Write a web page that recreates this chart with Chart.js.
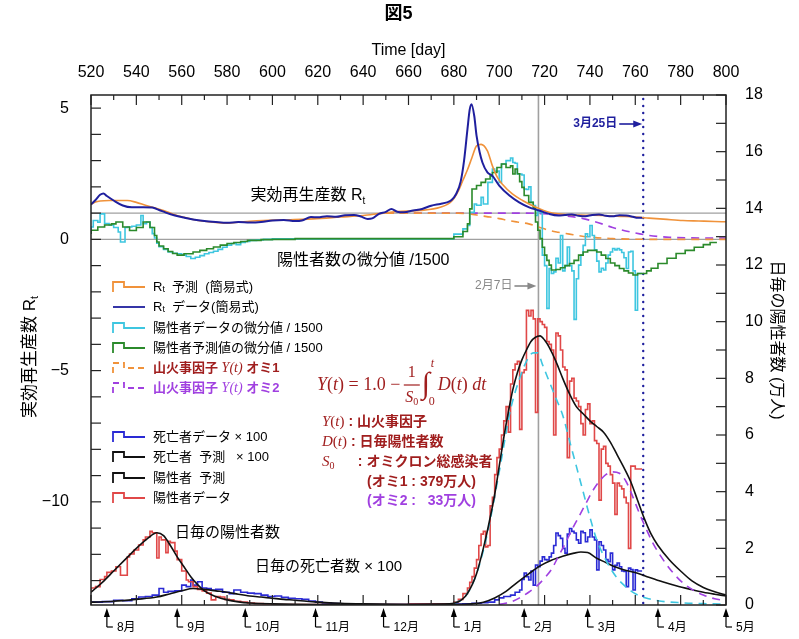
<!DOCTYPE html>
<html>
<head>
<meta charset="UTF-8">
<title>図5</title>
<script src="https://cdn.jsdelivr.net/npm/chart.js"></script>
<style>
  html, body { margin: 0; padding: 0; background: #fff; }
  canvas { display: block; }
</style>
</head>
<body>
<canvas id="fig5" width="799" height="639"></canvas>
<script>
// ---- axes ----
const dayMin = 520, dayMax = 800;
const leftMin = -13.93, leftMax = 5.5;
const rightMin = 0, rightMax = 18;
const refLevels = [0, 1];
const feb7Day = 717.3, mar25Day = 763.5;
const monthDays = [527, 558, 588, 619, 649, 680, 711, 739, 770, 800];
const monthLabels = ['8月', '9月', '10月', '11月', '12月', '1月', '2月', '3月', '4月', '5月'];

// ---- upper panel (left axis) ----
const rtPredDays = [520,522,524,528,532,536,540,544,548,552,556,560,565,570,575,580,585,590,596,606,618,630,640,647,655,665,674,679,682,684,686,688,690,692,694.8,697,699.2,701.4,705.8,710.3,716.2,722,730.8,738,745.5,752,760.2,766,774,781,788,795,800];
const rtPredVals = [1.33,1.42,1.46,1.48,1.48,1.48,1.41,1.3,1.2,1.1,0.97,0.86,0.76,0.69,0.64,0.62,0.65,0.69,0.72,0.74,0.78,0.85,0.91,0.98,1.06,1.1,1.22,1.45,1.85,2.25,2.65,3.12,3.56,3.62,3.37,2.8,2.36,2.1,1.73,1.48,1.22,1.03,0.94,0.92,0.91,0.88,0.85,0.81,0.76,0.72,0.7,0.68,0.67];

const rtDataDays = [520,522,524,525.5,527,530,534,538,543,547,550,553,557,561,565,570,575,580,585,590,595,600,605,610,613,617,620,624,628,632,636,639,642,644,647,650,652.5,655,658,662,666,670,674,677,679,681,683,
  684.5,686,687,687.8,689,690,691.3,692.6,694.8,697,700,704.5,708.8,713.2,717.6,722,726,729,732,735,738,741,744,747,750,753,756,759,761,763];
const rtDataVals = [1.33,1.5,1.7,1.75,1.65,1.48,1.29,1.22,1.22,1.21,1.12,1.02,0.91,0.83,0.76,0.7,0.66,0.63,0.66,0.64,0.66,0.72,0.74,0.7,0.72,0.85,0.84,0.88,0.86,0.92,0.93,0.87,0.78,0.8,0.97,1.05,1.16,1.05,1.03,1.1,1.16,1.28,1.35,1.41,1.5,1.73,2.2,
  3.0,4.2,4.95,5.15,4.7,3.95,3.35,2.93,2.55,2.42,2.05,1.67,1.41,1.22,1.1,0.97,0.91,0.93,0.95,0.9,0.88,0.93,0.95,0.9,0.88,0.92,0.91,0.86,0.82,0.82];

const dPosDataDays = [520,521,523,524,526,528,530,532,533,535,536,538,540,542,543,544.5,546,547,548,549,550,552,554,556,558,560,562,564,566,568,570,572,574,576,578,580,582,584,586,588,590,593,596,600,680,684,686,687,689,690,692,693,695,697,698,700,701,703,705,706,707,708,710,711,712,713,714,715,716,717,718,719,720,
  721,722,723,724,725,726,727,728,729,730,731,732,733,734,735,736,737,738,739,740,741,742,743,744,745,746,747,748,749,750,751,752,753,754,755,756,757,758,759,760,761,762,763];
const dPosDataVals = [0.2,0.47,0.72,0.65,0.97,0.6,0.55,0.45,0.28,-0.1,0.45,0.47,0.5,0.55,0.91,0.6,0.66,0.45,0.22,0.05,-0.15,-0.28,-0.38,-0.48,-0.53,-0.55,-0.6,-0.65,-0.73,-0.68,-0.62,-0.55,-0.5,-0.45,-0.38,-0.3,-0.22,-0.16,-0.2,-0.12,-0.08,-0.04,-0.02,0,0.02,0.2,0.4,0.53,1.03,1.35,1.3,1.6,1.35,2.17,2.68,2.6,2.17,2.87,3.0,3.1,2.93,2.9,2.49,2.45,1.92,1.9,2.0,1.41,1.29,0.91,1.1,1.03,-0.6,
  -1.0,-2.63,-1.11,-1.3,-1.24,-0.72,-0.9,0.15,-1.2,-1.0,-0.29,-1.0,-1.2,-3.05,-1.5,-0.98,-0.6,-0.23,0.21,0.1,0.53,0.15,-0.4,-0.83,-1.24,-1.1,-1.17,-0.9,-0.6,-0.48,-0.35,-0.4,-0.35,-0.4,-0.5,-0.7,-1.11,-0.48,-0.45,-1.2,-2.7,-1.3,-1.3];

const dPosPredDays = [520,523,526,529,531,534,537,540,543,546,548,549,550,552,554,556,558,561,565,568,571,574,577,580,583,586,589,595,600,610,680,684,686,687,688,690,692,694,696,697,699,701,703,705,706,707,708,709,710,711,713,715,716,717,718,719,720,721,722,723,725,727,729,731,733,735,737,739,741,743,745,747,749,751,753,755,757,759,761,763,765,767,770,774,778,782,786,790,793,796];
const dPosPredVals = [0.2,0.35,0.47,0.55,0.59,0.66,0.47,0.34,0.45,0.66,0.45,0.15,-0.1,-0.25,-0.36,-0.46,-0.54,-0.6,-0.55,-0.48,-0.42,-0.36,-0.29,-0.22,-0.16,-0.12,-0.08,-0.04,-0.01,0,0.03,0.1,0.3,0.59,1.16,1.92,2.05,2.17,2.3,2.42,2.55,2.74,2.87,2.74,2.8,2.49,2.68,2.5,2.2,1.98,1.67,1.41,1.2,0.66,0.35,0.03,-0.3,-0.6,-0.8,-0.98,-1.17,-1.15,-1.08,-1.0,-0.92,-0.8,-0.6,-0.48,-0.42,-0.42,-0.48,-0.6,-0.73,-0.9,-1.0,-1.11,-1.2,-1.28,-1.36,-1.3,-1.3,-1.2,-1.1,-0.92,-0.72,-0.54,-0.42,-0.3,-0.2,-0.12];

const fire1Days = [650,682,687,692,696,700,704,708,713,717,722,726,731,736,740,745,750,757,770,800];
const fire1Vals = [1.0,1.0,0.97,0.9,0.85,0.79,0.72,0.66,0.59,0.48,0.34,0.27,0.2,0.13,0.09,0.05,0.03,0.01,0.0,0.0];
const fire2Days = [650,712,718,724,729,734,738,742,746,750,754,758,762,766,770,775,782,790,800];
const fire2Vals = [1.0,1.0,0.98,0.95,0.9,0.84,0.77,0.68,0.57,0.45,0.36,0.28,0.21,0.15,0.11,0.08,0.06,0.05,0.05];

// ---- lower panel (right axis, 万人) ----
const posDataDays = [520,522,524,526,527,529,531,533,534,536,537,539,541,543,544,546,547,549,550,551,553,554,555,557,558,560,562,563,565,567,569,571,573,575,577,579,581,583,586,589,592,596,600,620,660,678,680,682,684,
  686,687,688,689,690,691,692,693,694,695,696,697,698,699,700,701,702,703,704,705,706,707,708,709,710,711,712,713,714,715,716,717,718,719,720,721,722,723,724,725,
  726,727,728,729,730,731,732,733,734,735,736,737,738,739,740,741,742,743,744,745,746,747,748,749,750,751,752,753,754,755,756,757,758,759,760,761,762,763];
const posDataVals = [0.45,0.6,0.65,0.9,1.0,1.15,1.2,1.35,1.05,1.05,1.7,1.8,1.94,2.12,2.3,2.4,2.6,2.55,1.66,2.4,2.3,1.85,2.25,2.2,1.9,1.6,1.2,0.88,0.82,0.65,0.55,0.5,0.42,0.18,0.3,0.28,0.2,0.18,0.13,0.1,0.07,0.05,0.04,0.02,0.02,0.03,0.03,0.1,0.2,
  0.4,0.6,0.8,1.0,1.3,1.6,2.1,2.5,2.6,2.05,2.1,3.5,3.8,4.6,5.2,5.5,6.0,6.5,7.0,6.1,7.8,8.3,8.5,8.6,6.2,8.2,8.3,10.4,10.2,10.4,10.1,6.8,10.1,10.0,9.9,9.8,9.3,9.2,9.0,6.0,
  9.6,9.5,9.0,8.4,8.3,5.2,7.9,8.0,7.3,7.2,7.0,6.4,6.0,6.9,7.1,6.4,6.5,5.8,5.7,3.7,5.5,5.6,5.0,4.9,4.6,4.3,3.2,4.3,4.2,4.1,3.8,3.6,2.0,4.9,4.9,4.8,4.8,4.8];

const posPredDays = [520,525,530,535,540,545,549,552,555,558,561,564,567,570,575,580,585,590,600,620,660,675,680,685,688,690,693,695,698,700,702,704,706,708,710,712,714,716,718,720,722,725,728,731,734,737,740,743,746,749,752,755,758,761,764,767,770,775,780,785,790,795,800];
const posPredVals = [0.45,0.8,1.2,1.6,2.0,2.35,2.55,2.45,2.1,1.7,1.35,1.0,0.72,0.5,0.3,0.18,0.11,0.07,0.04,0.02,0.02,0.03,0.06,0.3,0.7,1.1,2.0,2.7,3.9,4.9,5.9,6.8,7.6,8.2,8.65,9.0,9.3,9.45,9.5,9.35,9.1,8.6,8.0,7.45,7.0,6.75,6.5,6.3,6.1,5.75,5.3,4.85,4.35,3.7,3.05,2.5,2.1,1.6,1.2,0.85,0.62,0.47,0.35];

const omi1Days = [680,685,690,695,700,705,709,712,715,717,719,722,725,728,731,734,737,740,743,746,749,752,755,758,762,766,770,780,790,800];
const omi1Vals = [0.05,0.3,1.1,2.6,4.7,6.9,8.0,8.6,8.9,8.9,8.5,7.9,7.3,6.7,5.8,4.9,4.0,3.1,2.3,1.75,1.3,0.95,0.7,0.5,0.32,0.22,0.15,0.08,0.05,0.03];
const omi2Days = [700,705,709,713,717,720,723,726,729,732,735,738,741,744,747,750,753,756,759,762,765,768,771,775,780,785,790,795,800];
const omi2Vals = [0.02,0.1,0.25,0.45,0.7,0.95,1.25,1.7,2.15,2.65,3.1,3.55,4.0,4.35,4.6,4.7,4.65,4.35,3.8,3.2,2.65,2.15,1.75,1.3,0.85,0.55,0.35,0.22,0.15];

const deathDataDays = [520,525,530,534,538,541,544,547,550,552,554,557,560,562,564,565,567,569,571,573,575,578,581,583,586,589,592,595,598,601,604,607,610,613,616,619,622,626,630,640,660,684,688,692,695,698,700,702,705,707,709,710,
  711,712,713,714,715,716,717,718,719,720,721,722,723,724,725,726,727,728,729,730,731,732,733,734,735,736,737,738,739,740,741,742,743,744,745,746,747,748,749,750,751,752,753,754,755,756,757,758,759,760,761,762,763];
const deathDataVals = [0.08,0.1,0.12,0.17,0.15,0.22,0.28,0.3,0.35,0.58,0.45,0.48,0.5,0.7,0.65,0.88,0.7,0.82,0.6,0.58,0.53,0.55,0.45,0.4,0.53,0.45,0.42,0.4,0.35,0.3,0.32,0.27,0.24,0.22,0.2,0.14,0.1,0.07,0.05,0.03,0.02,0.03,0.04,0.06,0.08,0.1,0.18,0.25,0.3,0.35,0.45,0.53,
  0.9,1.13,1.0,0.88,1.2,0.7,1.41,1.35,1.55,1.7,1.6,1.59,1.7,1.83,2.1,2.54,2.45,2.35,2.0,1.83,2.5,2.7,2.6,2.54,2.3,2.18,2.6,2.55,2.23,2.4,2.65,2.4,2.3,1.24,2.23,2.1,1.94,1.6,1.53,1.83,1.24,1.4,1.48,1.35,1.2,1.18,0.65,1.3,1.25,0.53,1.24,1.2,1.2];

const deathPredDays = [520,530,540,549,555,560,565,570,575,580,585,590,595,600,605,610,615,620,630,640,660,680,688,693,698,703,708,713,718,723,728,733,736,739,743,747,751,756,761,766,772,778,784,790,795,800];
const deathPredVals = [0.1,0.13,0.2,0.28,0.4,0.5,0.58,0.55,0.5,0.45,0.38,0.32,0.28,0.24,0.2,0.17,0.13,0.1,0.06,0.04,0.02,0.02,0.04,0.1,0.25,0.48,0.8,1.1,1.38,1.58,1.72,1.83,1.87,1.85,1.65,1.5,1.35,1.22,1.12,0.98,0.82,0.68,0.56,0.45,0.38,0.32];

// ---- look ----
const SANS = '"Liberation Sans", "Noto Sans CJK JP", sans-serif';
const SERIF = '"Liberation Serif", "DejaVu Serif", serif';
const C = {
  orange: '#f0923a', navy: '#1f1f9e', cyan: '#3ec6e0', green: '#2b8a2b', purple: '#a040e0',
  blue: '#2a2ad4', black: '#111111', red: '#e04848', darkred: '#a01e1e', gray: '#a0a0a0'
};

function pts(days, vals) { return days.map((d, i) => ({ x: d, y: vals[i] })); }
function series(label, days, vals, axis, color, extra) {
  return Object.assign({
    label: label, data: pts(days, vals), xAxisID: 'x', yAxisID: axis,
    borderColor: color, backgroundColor: color, borderWidth: 1.6, pointRadius: 0, fill: false
  }, extra || {});
}
const smooth = { cubicInterpolationMode: 'monotone' };
const step = { stepped: 'after' };
const dash = { borderDash: [8, 6], cubicInterpolationMode: 'monotone' };

function line(ctx, x1, y1, x2, y2) { ctx.beginPath(); ctx.moveTo(x1, y1); ctx.lineTo(x2, y2); ctx.stroke(); }
// draw text pieces [text, font, color, dy] one after another
function rich(ctx, x, y, segs, align) {
  let w = 0;
  segs.forEach(s => { ctx.font = s[1]; w += ctx.measureText(s[0]).width; });
  let cx = align === 'center' ? x - w / 2 : (align === 'right' ? x - w : x);
  ctx.textAlign = 'left';
  segs.forEach(s => {
    ctx.font = s[1]; ctx.fillStyle = s[2];
    ctx.fillText(s[0], cx, y + (s[3] || 0));
    cx += ctx.measureText(s[0]).width;
  });
  return cx;
}
function arrowRight(ctx, x1, x2, y, color) {
  ctx.strokeStyle = color; ctx.fillStyle = color; ctx.lineWidth = 1.6;
  line(ctx, x1, y, x2 - 8, y);
  ctx.beginPath(); ctx.moveTo(x2, y); ctx.lineTo(x2 - 9, y - 3.5); ctx.lineTo(x2 - 9, y + 3.5); ctx.closePath(); ctx.fill();
}
function stepIcon(ctx, x0, y, color, dashed) {
  ctx.save();
  ctx.strokeStyle = color; ctx.lineWidth = 1.8;
  if (dashed) ctx.setLineDash([6, 4]);
  ctx.beginPath();
  ctx.moveTo(x0, y + 5); ctx.lineTo(x0, y - 5); ctx.lineTo(x0 + 11, y - 5); ctx.lineTo(x0 + 11, y); ctx.lineTo(x0 + 32, y);
  ctx.stroke();
  ctx.restore();
}

const decor = {
  id: 'decor',
  beforeDatasetsDraw(chart) {
    const { ctx, chartArea: a, scales } = chart;
    const x = scales.x, yL = scales.yL;
    ctx.save();
    ctx.strokeStyle = C.gray; ctx.lineWidth = 1.3;
    refLevels.forEach(v => { const y = yL.getPixelForValue(v); line(ctx, a.left, y, a.right, y); });
    const gx = x.getPixelForValue(feb7Day);
    ctx.lineWidth = 1.6;
    line(ctx, gx, a.top, gx, a.bottom);
    const bx = x.getPixelForValue(mar25Day);
    ctx.strokeStyle = C.navy; ctx.lineWidth = 2.4; ctx.lineCap = 'round'; ctx.setLineDash([0, 7]);
    line(ctx, bx, a.top + 4, bx, a.bottom);
    ctx.restore();
  },
  afterDatasetsDraw(chart) {
    const { ctx, chartArea: a, scales } = chart;
    const x = scales.x, yL = scales.yL, yR = scales.yR;
    ctx.save();
    ctx.textBaseline = 'middle';

    // frame and inward ticks
    ctx.strokeStyle = '#222'; ctx.lineWidth = 1.5;
    ctx.strokeRect(a.left, a.top, a.right - a.left, a.bottom - a.top);
    ctx.lineWidth = 1.2;
    for (let d = dayMin; d <= dayMax; d += 10) {
      const px = x.getPixelForValue(d), len = d % 20 === 0 ? 10 : 5;
      line(ctx, px, a.top, px, a.top + len);
      line(ctx, px, a.bottom, px, a.bottom - len);
    }
    for (let v = Math.ceil(leftMin); v <= Math.floor(leftMax); v++) {
      const py = yL.getPixelForValue(v);
      line(ctx, a.left, py, a.left + 10, py);
    }
    for (let v = rightMin; v <= rightMax; v++) {
      const py = yR.getPixelForValue(v);
      line(ctx, a.right - 10, py, a.right, py);
    }

    // titles
    ctx.fillStyle = '#000'; ctx.textAlign = 'center';
    ctx.font = 'bold 18px ' + SANS;
    ctx.fillText('図5', (a.left + a.right) / 2 - 10, 14);
    ctx.font = '16px ' + SANS;
    ctx.fillText('Time [day]', (a.left + a.right) / 2, 51);

    ctx.save();
    ctx.translate(30, 357); ctx.rotate(-Math.PI / 2);
    rich(ctx, 0, 0, [['実効再生産数 R', '17px ' + SANS, '#000'], ['t', '11px ' + SANS, '#000', 5]], 'center');
    ctx.restore();
    ctx.save();
    ctx.translate(776, 340); ctx.rotate(Math.PI / 2);
    rich(ctx, 0, 0, [['日毎の陽性者数 (万人)', '16px ' + SANS, '#000']], 'center');
    ctx.restore();

    // panel labels
    rich(ctx, 308, 196, [['実効再生産数 R', '16px ' + SANS, '#000'], ['t', '10px ' + SANS, '#000', 5]], 'center');
    rich(ctx, 277, 261, [['陽性者数の微分値 /1500', '16px ' + SANS, '#000']]);
    rich(ctx, 175, 533, [['日毎の陽性者数', '15px ' + SANS, '#000']]);
    rich(ctx, 255, 567, [['日毎の死亡者数 × 100', '15px ' + SANS, '#000']]);

    // date markers
    const bx = x.getPixelForValue(mar25Day), gx = x.getPixelForValue(feb7Day);
    rich(ctx, bx - 26, 124, [['3月25日', 'bold 12px ' + SANS, C.navy]], 'right');
    arrowRight(ctx, bx - 24, bx - 1, 124, C.navy);
    rich(ctx, gx - 26, 286, [['2月7日', '12px ' + SANS, '#888']], 'right');
    arrowRight(ctx, gx - 24, gx - 2, 286, '#888');

    // legend
    const f13 = '13px ' + SANS, f9 = '9px ' + SANS, b13 = 'bold 13px ' + SANS, it = 'italic 14px ' + SERIF;
    const lx = 113, tx = 153;
    const rows = [
      [287, C.orange, 'step', [['R', f13, '#000'], ['t', f9, '#000', 3], ['  予測  (簡易式)', f13, '#000']]],
      [307, C.navy, 'line', [['R', f13, '#000'], ['t', f9, '#000', 3], ['  データ(簡易式)', f13, '#000']]],
      [328, C.cyan, 'step', [['陽性者データの微分値 / 1500', f13, '#000']]],
      [348, C.green, 'step', [['陽性者予測値の微分値 / 1500', f13, '#000']]],
      [368, C.orange, 'dash', [['山火事因子 ', b13, C.darkred], ['Y(t)', it, C.darkred], [' オミ1', b13, C.darkred]]],
      [388, C.purple, 'dash', [['山火事因子 ', b13, C.purple], ['Y(t)', it, C.purple], [' オミ2', b13, C.purple]]],
      [437, C.blue, 'step', [['死亡者データ × 100', f13, '#000']]],
      [457, C.black, 'step', [['死亡者  予測   × 100', f13, '#000']]],
      [478, C.black, 'step', [['陽性者  予測', f13, '#000']]],
      [498, C.red, 'step', [['陽性者データ', f13, '#000']]]
    ];
    rows.forEach(r => {
      if (r[2] === 'line') {
        ctx.strokeStyle = r[1]; ctx.lineWidth = 1.8; line(ctx, lx, r[0], lx + 32, r[0]);
      } else {
        stepIcon(ctx, lx, r[0], r[1], r[2] === 'dash');
      }
      rich(ctx, tx, r[0], r[3]);
    });

    // formula
    const fy = 385, fi = 'italic 18px ' + SERIF, fr = '18px ' + SERIF;
    let fx = rich(ctx, 317, fy, [['Y', fi, C.darkred], ['(', fr, C.darkred], ['t', fi, C.darkred], [') = 1.0 − ', fr, C.darkred]]);
    const fc = fx + 7;
    ctx.textAlign = 'center'; ctx.fillStyle = C.darkred; ctx.font = '16px ' + SERIF;
    ctx.fillText('1', fc, fy - 12);
    ctx.strokeStyle = C.darkred; ctx.lineWidth = 1.2; line(ctx, fc - 8, fy, fc + 8, fy);
    rich(ctx, fc, fy + 13, [['S', 'italic 16px ' + SERIF, C.darkred], ['0', '10px ' + SERIF, C.darkred, 4]], 'center');
    fx = fc + 10;
    rich(ctx, fx, fy, [['∫', '30px ' + SERIF, C.darkred]]);
    rich(ctx, fx + 9, fy - 21, [['t', 'italic 12px ' + SERIF, C.darkred]]);
    rich(ctx, fx + 7, fy + 17, [['0', '12px ' + SERIF, C.darkred]]);
    rich(ctx, fx + 16, fy, [['D', fi, C.darkred], ['(', fr, C.darkred], ['t', fi, C.darkred], [') ', fr, C.darkred], ['dt', fi, C.darkred]]);

    // formula notes
    const it15 = 'italic 15px ' + SERIF, b14 = 'bold 14px ' + SANS;
    rich(ctx, 322, 422, [['Y', it15, C.darkred], ['(', '15px ' + SERIF, C.darkred], ['t', it15, C.darkred], [')', '15px ' + SERIF, C.darkred], [' : 山火事因子', b14, C.darkred]]);
    rich(ctx, 322, 442, [['D', it15, C.darkred], ['(', '15px ' + SERIF, C.darkred], ['t', it15, C.darkred], [')', '15px ' + SERIF, C.darkred], [' : 日毎陽性者数', b14, C.darkred]]);
    rich(ctx, 322, 462, [['S', it15, C.darkred], ['0', '10px ' + SERIF, C.darkred, 4], ['      : オミクロン総感染者', b14, C.darkred]]);
    rich(ctx, 367, 482, [['(オミ1 : 379万人)', b14, C.darkred]]);
    rich(ctx, 367, 501, [['(オミ2 :   33万人)', b14, C.purple]]);

    // month arrows under the axis
    ctx.fillStyle = '#000'; ctx.strokeStyle = '#000'; ctx.lineWidth = 1.2;
    monthDays.forEach((d, i) => {
      const mx = x.getPixelForValue(d), y0 = a.bottom + 3;
      ctx.beginPath(); ctx.moveTo(mx, y0); ctx.lineTo(mx - 3, y0 + 9); ctx.lineTo(mx + 3, y0 + 9); ctx.closePath(); ctx.fill();
      line(ctx, mx, y0 + 9, mx, y0 + 19);
      line(ctx, mx, y0 + 19, mx + 6, y0 + 19);
      rich(ctx, mx + 10, y0 + 20, [[monthLabels[i], '12px ' + SANS, '#000']]);
    });
    ctx.restore();
  }
};

const ctx = document.getElementById('fig5').getContext('2d');
const chart = new Chart(ctx, {
  type: 'line',
  data: {
    datasets: [
      // upper panel
      series('Rt データ(簡易式)', rtDataDays, rtDataVals, 'yL', C.navy, Object.assign({ borderWidth: 2 }, smooth)),
      series('Rt 予測 (簡易式)', rtPredDays, rtPredVals, 'yL', C.orange, smooth),
      series('陽性者予測値の微分値 / 1500', dPosPredDays, dPosPredVals, 'yL', C.green, step),
      series('陽性者データの微分値 / 1500', dPosDataDays, dPosDataVals, 'yL', C.cyan, step),
      series('山火事因子 Y(t) オミ1', fire1Days, fire1Vals, 'yL', C.orange, dash),
      series('山火事因子 Y(t) オミ2', fire2Days, fire2Vals, 'yL', C.purple, dash),
      // lower panel
      series('陽性者 予測', posPredDays, posPredVals, 'yR', C.black, smooth),
      series('オミ1', omi1Days, omi1Vals, 'yR', C.cyan, dash),
      series('オミ2', omi2Days, omi2Vals, 'yR', C.purple, dash),
      series('死亡者 予測 × 100', deathPredDays, deathPredVals, 'yR', C.black, smooth),
      series('陽性者データ', posDataDays, posDataVals, 'yR', C.red, step),
      series('死亡者データ × 100', deathDataDays, deathDataVals, 'yR', C.blue, step)
    ]
  },
  options: {
    responsive: false,
    animation: false,
    layout: { padding: { top: 0, bottom: 34, left: 0, right: 0 } },
    plugins: { legend: { display: false }, tooltip: { enabled: false } },
    scales: {
      x: {
        type: 'linear', position: 'top', min: dayMin, max: dayMax,
        grid: { display: false }, border: { display: false },
        ticks: { stepSize: 20, maxRotation: 0, autoSkip: false, padding: 5, color: '#000', font: { size: 16, family: SANS } },
        afterFit(s) { s.height = 95; }
      },
      yL: {
        position: 'left', min: leftMin, max: leftMax,
        grid: { display: false }, border: { display: false },
        ticks: {
          stepSize: 5, includeBounds: false, padding: 14, color: '#000', font: { size: 16, family: SANS },
          callback: v => v < 0 ? '−' + Math.abs(v) : String(v)
        },
        afterFit(s) { s.width = 91; }
      },
      yR: {
        position: 'right', min: rightMin, max: rightMax,
        grid: { display: false }, border: { display: false },
        ticks: { stepSize: 2, padding: 11, color: '#000', font: { size: 16, family: SANS } },
        afterFit(s) { s.width = 73; }
      }
    }
  },
  plugins: [decor]
});
</script>
</body>
</html>
